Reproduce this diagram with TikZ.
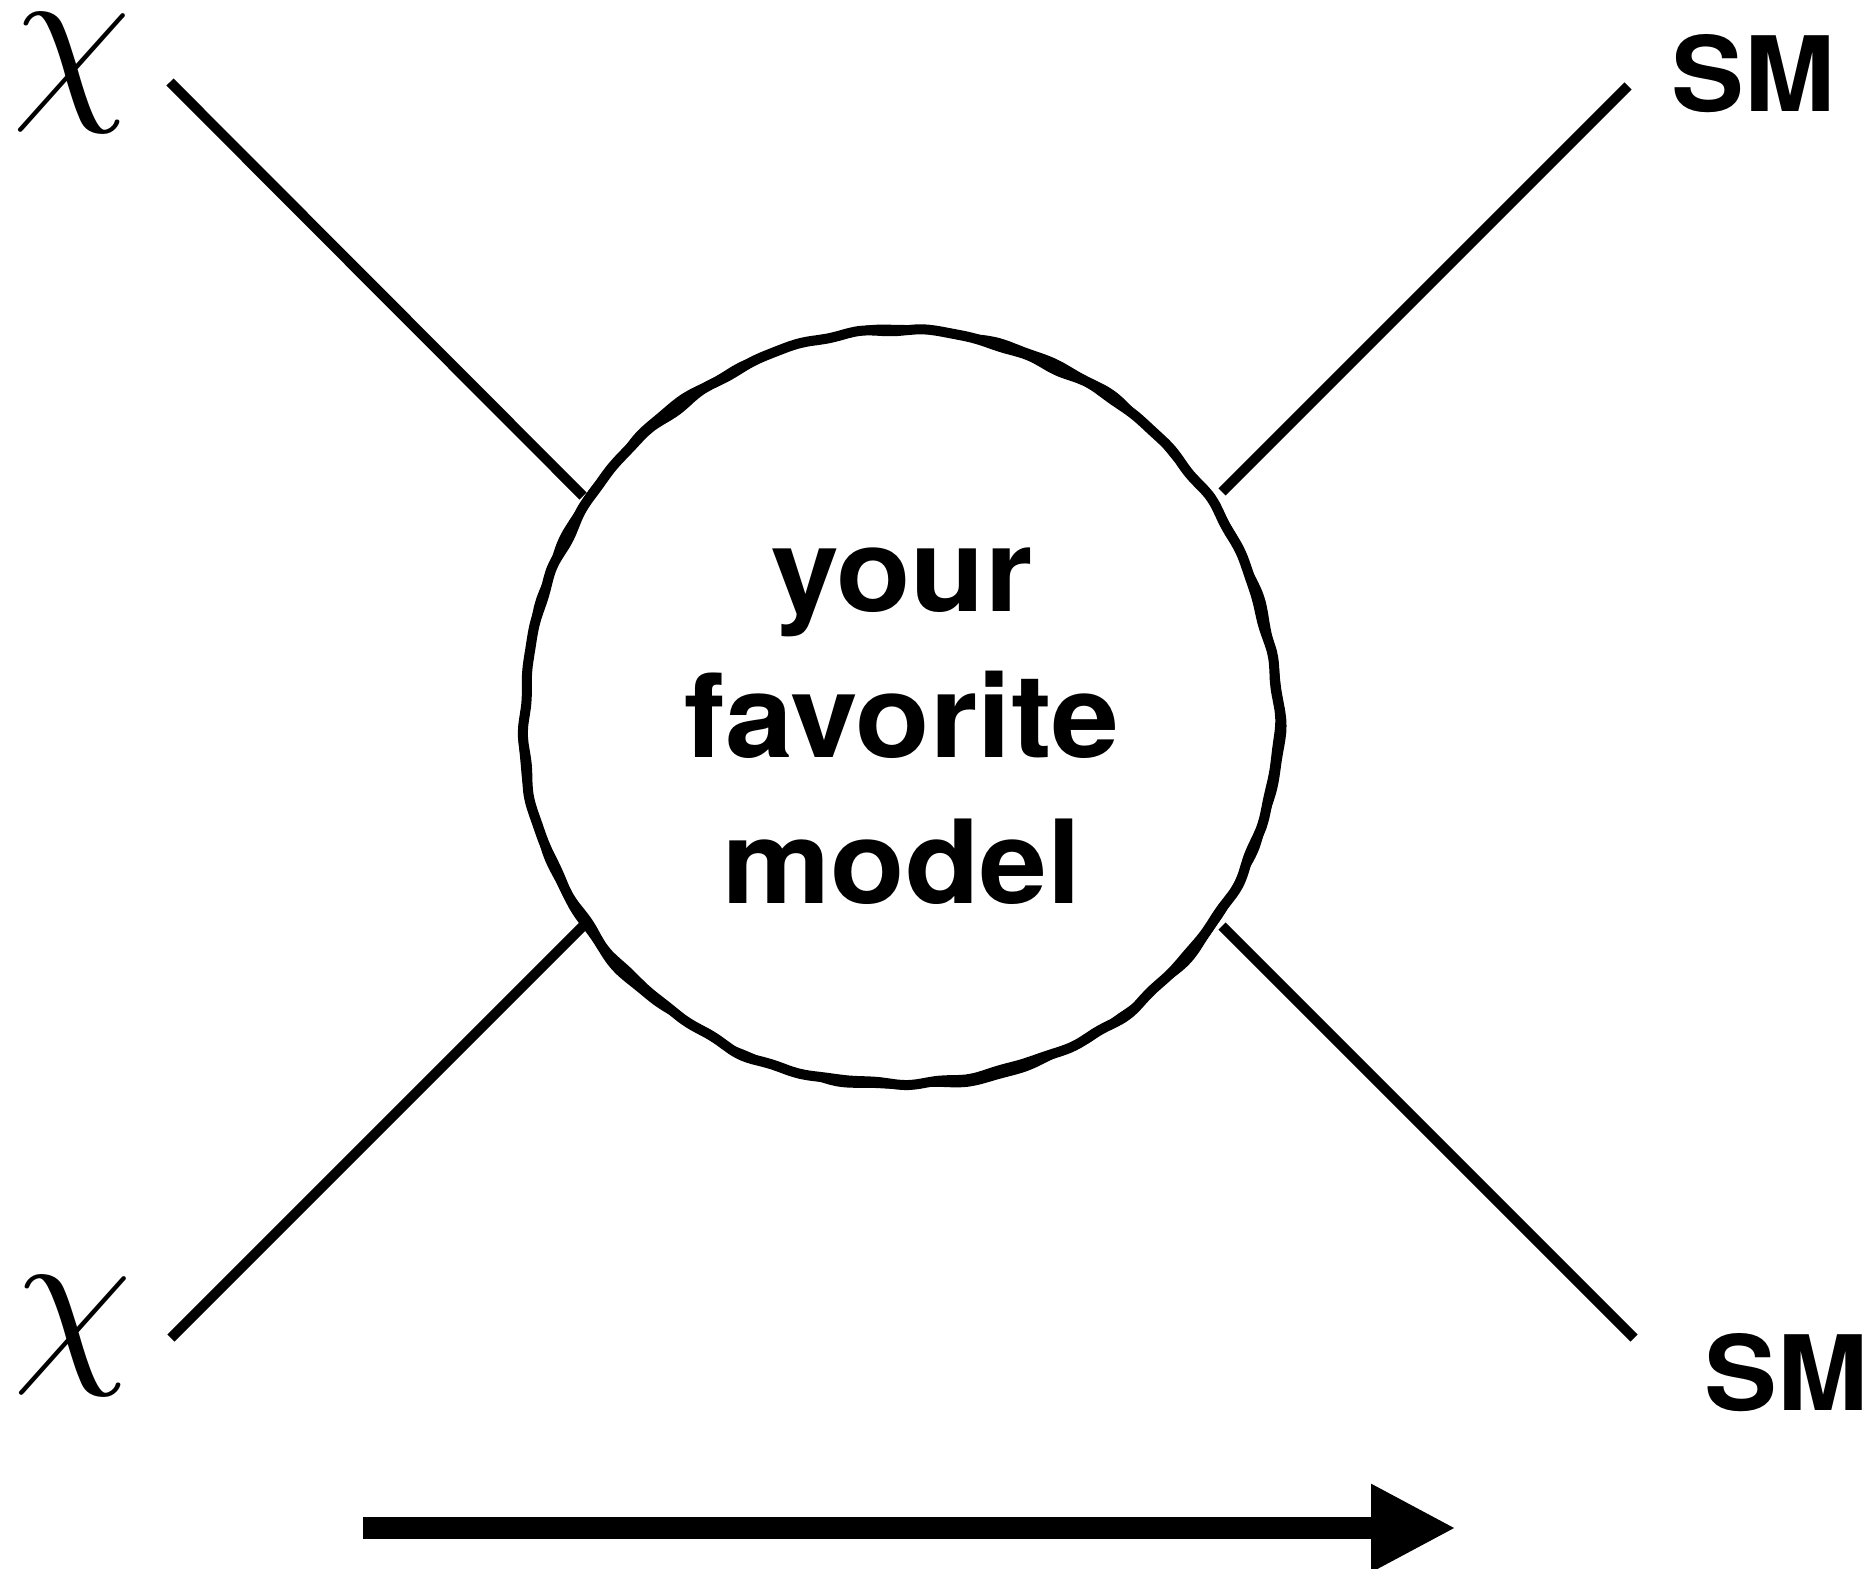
\documentclass[tikz,border=0pt]{standalone}
\usepackage{fontspec}
\newfontfamily\hel[FakeStretch=1.05]{TeX Gyre Heros}
\usetikzlibrary{arrows.meta}
\tikzset{
  leg/.style={line width=10pt},
  wob/.style={line width=10pt, line join=round},
  wobthin/.style={line width=6pt, line join=round},
  smlab/.style={font=\hel\bfseries\fontsize{104}{104}\selectfont, inner sep=0pt, anchor=base west},
  chilab/.style={inner sep=0pt},
  flow/.style={line width=22pt, -{Triangle[length=85pt,width=82pt]}}
}
\begin{document}
\begin{tikzpicture}[x=1pt,y=-1pt]
\useasboundingbox (0,0) rectangle (1873,1568);
% wobbly blob outline
\begin{scope}[shift={(900,710)}]
\draw[wob] plot[domain=0:360, samples=240, smooth cycle, variable=\t]
  ({(377+0.8*sin(29*\t)+0.7*sin(41*\t+60)+2.5*sin(3*\t+10)+1.2*sin(7*\t+30)+0.9*sin(13*\t+80))*cos(\t)},
   {(377+0.8*sin(29*\t)+0.7*sin(41*\t+60)+2.5*sin(3*\t+10)+1.2*sin(7*\t+30)+0.9*sin(13*\t+80))*sin(\t)});
\draw[wobthin] plot[domain=0:360, samples=240, smooth cycle, variable=\t]
  ({(379+1.0*sin(19*\t+40)+0.8*sin(37*\t+10)+2.5*sin(3*\t+10)+1.5*sin(5*\t+70)+1.2*sin(11*\t+20))*cos(\t)},
   {(379+1.0*sin(19*\t+40)+0.8*sin(37*\t+10)+2.5*sin(3*\t+10)+1.5*sin(5*\t+70)+1.2*sin(11*\t+20))*sin(\t)});
\end{scope}
\node (blob) at (902,726) [font=\hel\bfseries\fontsize{116}{146}\selectfont, align=center, inner sep=0pt] {your\\favorite\\model};
% leg end points
\coordinate (a1) at (170,82);  \coordinate (b1) at (583,496);
\coordinate (a2) at (1628,86); \coordinate (b2) at (1222,492);
\coordinate (a3) at (171,1338); \coordinate (b3) at (583,926);
\coordinate (a4) at (1634,1338); \coordinate (b4) at (1222,926);
\draw[leg] (a1) -- (b1);
\draw[leg] (a2) -- (b2);
\draw[leg] (a3) -- (b3);
\draw[leg] (a4) -- (b4);
% labels
\node[chilab] (chi1) at (72,73) {\scalebox{19}{$\chi$}};
\node[chilab] (chi2) at (73,1336) {\scalebox{19}{$\chi$}};
\node[smlab] (sm1) at (1671,112) {SM};
\node[smlab] (sm2) at (1704,1410) {SM};
% arrow
\coordinate (f1) at (363,1528);
\coordinate (f2) at (1456,1528);
\draw[flow] (f1) -- (f2);
\end{tikzpicture}
\end{document}
